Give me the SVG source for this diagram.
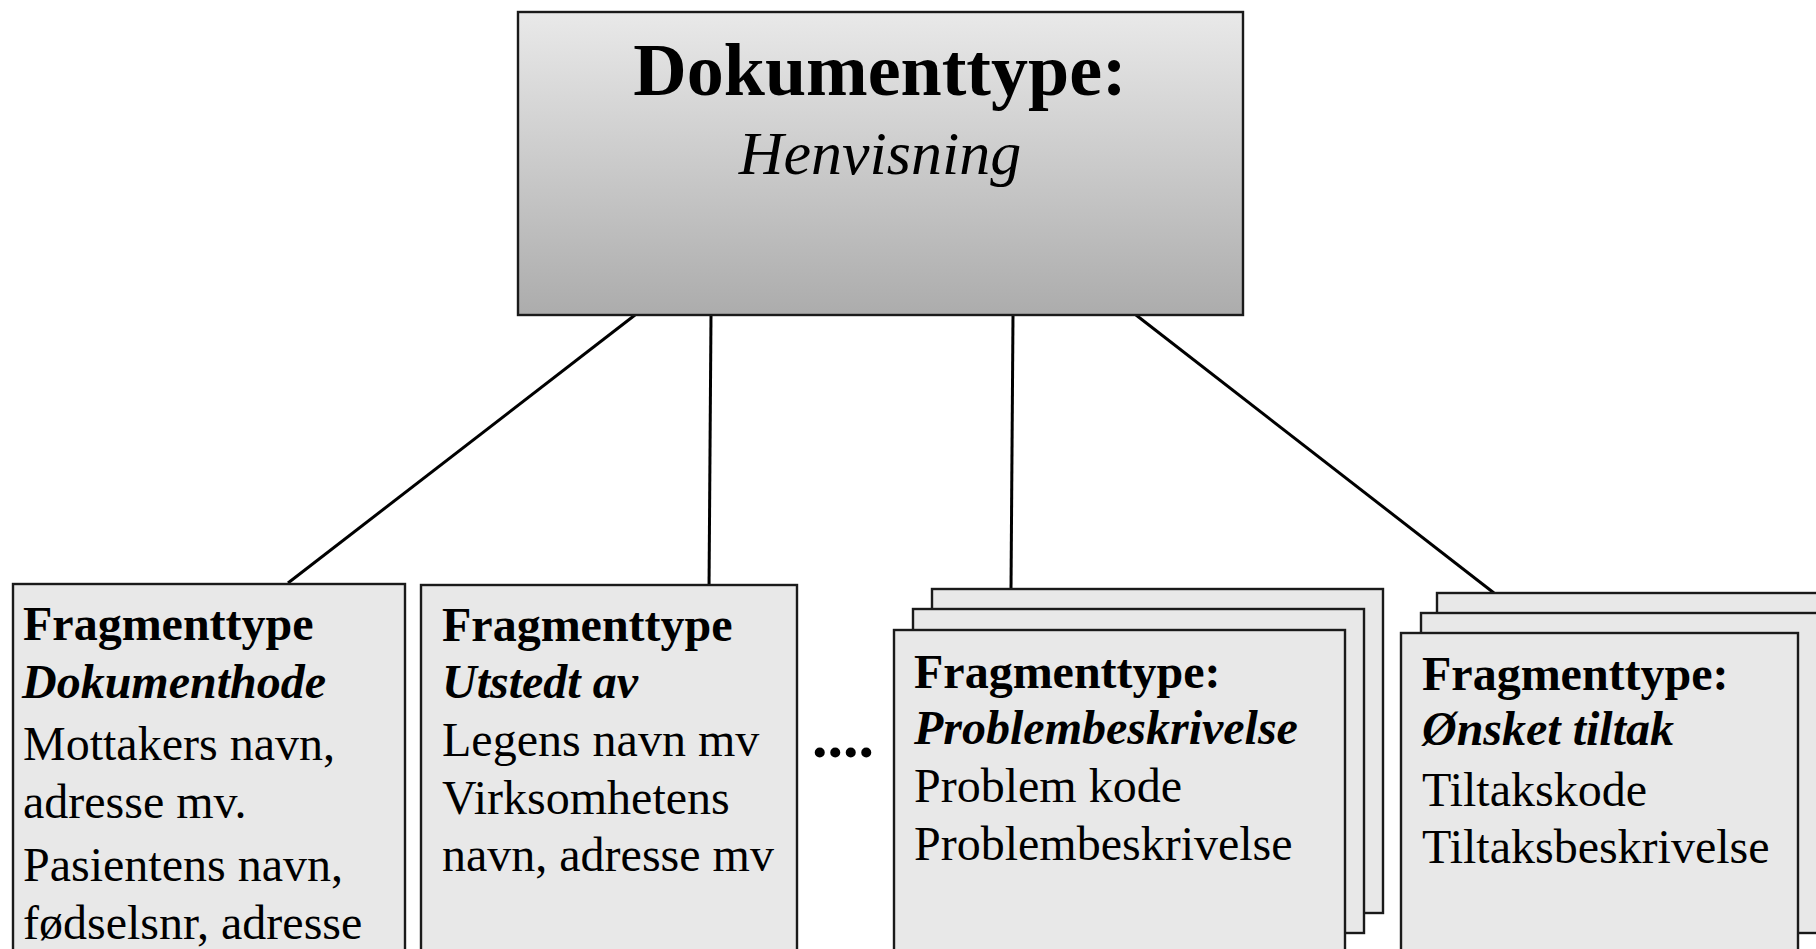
<svg xmlns="http://www.w3.org/2000/svg" width="1816" height="949" viewBox="0 0 1816 949">
<defs>
<linearGradient id="topGrad" x1="0" y1="0" x2="0" y2="1">
<stop offset="0" stop-color="#e9e9e9"/>
<stop offset="1" stop-color="#acacac"/>
</linearGradient>
</defs>
<style>
.box{fill:#e8e8e8;stroke:#1a1a1a;stroke-width:2.4}
.conn{stroke:#000;stroke-width:3;fill:none}
text{font-family:"Liberation Serif","Times New Roman",serif;fill:#000}
.t{font-size:48px}
.b{font-weight:bold}
.i{font-style:italic}
</style>
<rect width="1816" height="949" fill="#fff"/>
<g id="connectors">
<line class="conn" x1="635" y1="315" x2="288" y2="583"/>
<line class="conn" x1="711" y1="315" x2="709" y2="591"/>
<line class="conn" x1="1013" y1="315" x2="1011" y2="589"/>
<line class="conn" x1="1136" y1="315" x2="1494" y2="593"/>
</g>
<g id="doc">
<rect x="518" y="12" width="725" height="303" fill="url(#topGrad)" stroke="#1a1a1a" stroke-width="2.4"/>
<text x="880" y="95" text-anchor="middle" font-size="74" font-weight="bold">Dokumenttype:</text>
<text x="880" y="174" text-anchor="middle" font-size="62" font-style="italic">Henvisning</text>
</g>
<g id="frag1">
<rect class="box" x="13" y="584" width="392" height="400"/>
<text class="t b" x="23" y="640">Fragmenttype</text>
<text class="t b i" x="22" y="698">Dokumenthode</text>
<text class="t" x="23" y="760">Mottakers navn,</text>
<text class="t" x="23" y="818">adresse mv.</text>
<text class="t" x="23" y="881">Pasientens navn,</text>
<text class="t" x="23" y="939">fødselsnr, adresse</text>
</g>
<g id="frag2">
<rect class="box" x="421" y="585" width="376" height="400"/>
<text class="t b" x="442" y="641">Fragmenttype</text>
<text class="t b i" x="442" y="698">Utstedt av</text>
<text class="t" x="442" y="756">Legens navn mv</text>
<text class="t" x="442" y="814">Virksomhetens</text>
<text class="t" x="442" y="871">navn, adresse mv</text>
</g>
<g id="ellipsis">
<text x="812" y="757" font-size="62" font-weight="bold">....</text>
</g>
<g id="frag3">
<rect class="box" x="932" y="589" width="451" height="324"/>
<rect class="box" x="913" y="609" width="451" height="324"/>
<rect class="box" x="894" y="630" width="451" height="360"/>
<text class="t b" x="914" y="688">Fragmenttype:</text>
<text class="t b i" x="914" y="744">Problembeskrivelse</text>
<text class="t" x="914" y="802">Problem kode</text>
<text class="t" x="914" y="860">Problembeskrivelse</text>
</g>
<g id="frag4">
<rect class="box" x="1437" y="593" width="400" height="320"/>
<rect class="box" x="1421" y="613" width="398" height="320"/>
<rect class="box" x="1401" y="633" width="397" height="360"/>
<text class="t b" x="1422" y="690">Fragmenttype:</text>
<text class="t b i" x="1422" y="745">Ønsket tiltak</text>
<text class="t" x="1422" y="806">Tiltakskode</text>
<text class="t" x="1422" y="863">Tiltaksbeskrivelse</text>
</g>
</svg>
